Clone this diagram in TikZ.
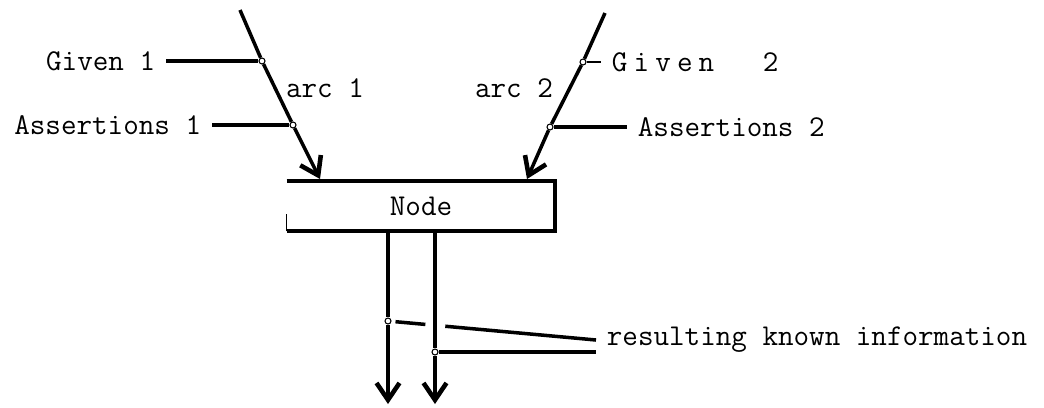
\documentclass[tikz,border=0pt]{standalone}
\usepackage{fontspec}
\usetikzlibrary{arrows.meta}

\begin{document}
\begin{tikzpicture}[x=0.02cm, y=-0.02cm,
    lbl/.style={font=\ttfamily\fontsize{17.2}{20}\selectfont, inner xsep=6pt, inner ysep=2pt},
    box/.style={minimum height=1cm, minimum width=5.36cm, inner sep=0pt, font=\ttfamily\fontsize{17.2}{20}\selectfont},
    dot/.style={circle, draw, fill=white, inner sep=0pt, minimum size=0.12cm, line width=0.6pt},
    wire/.style={line width=2pt},
    arr/.style={line width=2pt, -{Straight Barb[length=3.4mm, width=4.6mm, line width=2.6pt]}}
]
\useasboundingbox (0,0) rectangle (1044,407);
% the node
\node[box] (nd) at (421,206) {Node};
\draw[line width=2.4pt] (nd.north west) -- (nd.north east) -- (nd.south east) -- (nd.south west);
\draw[line width=0.6pt] (nd.south west) -- ++(0,-17);
% arc 1
\coordinate (top1) at (240,10);
\node[dot] (g1) at (262,61) {};
\node[dot] (a1) at (293,125) {};
\coordinate (in1) at (320,179);
\node[lbl, anchor=east] (given1) at (166,61) {Given 1};
\node[lbl, anchor=east] (assert1) at (212,125) {Assertions 1};
\node[lbl] (arclbl1) at (325,88) {arc 1};
\draw[arr] (top1) -- (g1) -- (a1) -- (in1);
\draw[wire] (given1) -- (g1);
\draw[wire] (assert1) -- (a1);
% arc 2
\coordinate (top2) at (605,13);
\node[dot] (g2) at (583,62) {};
\node[dot] (a2) at (550,127) {};
\coordinate (in2) at (527,179);
\node[lbl, anchor=west] (given2) at (601,62) {G\kern3.5pt i\kern3.5pt v\kern3.5pt e\kern3.5pt n\kern3.5pt\ \kern3.5pt\ \kern3pt 2};
\node[lbl, anchor=west] (assert2) at (627,127) {Assertions 2};
\node[lbl] (arclbl2) at (514,88) {arc 2};
\draw[arr] (top2) -- (g2) -- (a2) -- (in2);
\draw[line width=1pt] (g2) -- (given2);
\draw[wire] (a2) -- (assert2);
% outputs
\node[dot] (k1) at (388,321) {};
\node[dot] (k2) at (435,352) {};
\coordinate (out1) at (388,404);
\coordinate (out2) at (435,404);
\node[lbl, anchor=west] (res) at (596,340) {resulting known information};
\draw[arr] (nd.south -| k1) -- (k1) -- (out1);
\draw[arr] (nd.south -| k2) -- (k2) -- (out2);
\draw[wire, dash pattern=on 0.6cm off 0.4cm on 8cm, shorten <=0.08cm] (k1) -- (res.west);
\draw[wire] (k2) -- (res.west |- k2);
\end{tikzpicture}
\end{document}
